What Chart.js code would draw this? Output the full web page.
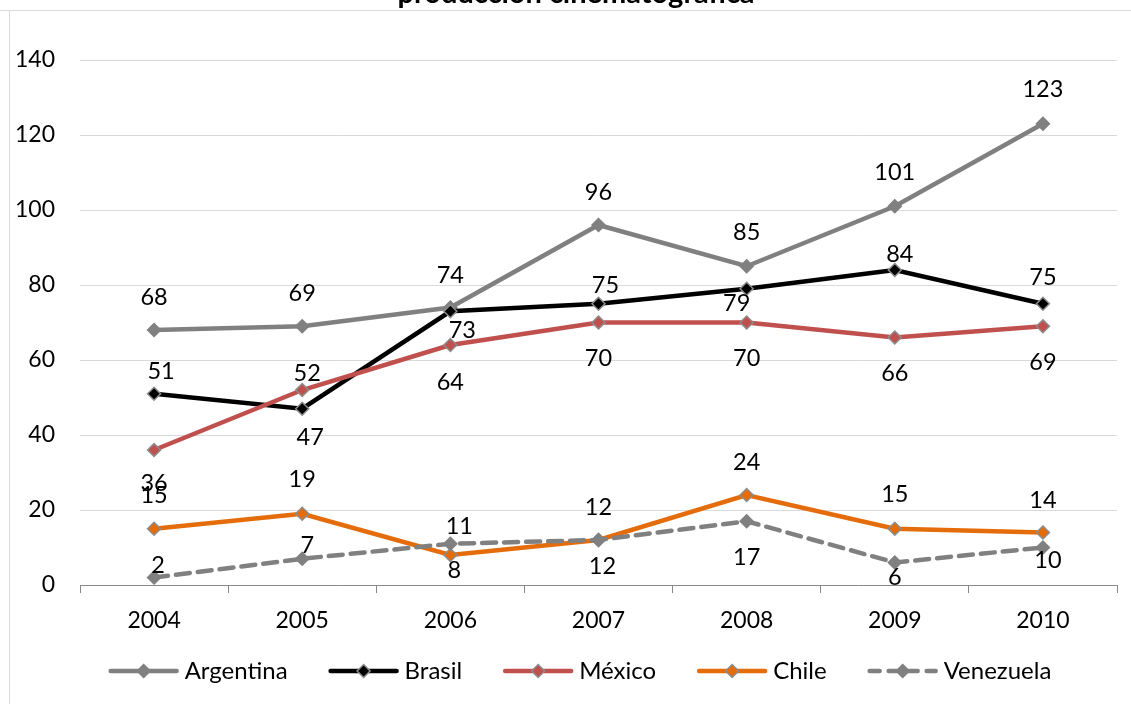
<!DOCTYPE html>
<html>
<head>
<meta charset="utf-8">
<script src="https://cdn.jsdelivr.net/npm/chart.js@4.4.1/dist/chart.umd.min.js"></script>
<style>
  html, body { margin: 0; padding: 0; background: #ffffff; }
  #wrap { position: relative; width: 1131px; height: 704px; }
  canvas { display: block; }
</style>
</head>
<body>
<div id="wrap"><canvas id="c" width="1131" height="704"></canvas></div>
<script>
// ---- data ----
const titleText = 'producción cinematográfica';
const categories = ['2004', '2005', '2006', '2007', '2008', '2009', '2010'];
const seriesNames = ['Argentina', 'Brasil', 'México', 'Chile', 'Venezuela'];
const argentina = [68, 69, 74, 96, 85, 101, 123];
const brasil = [51, 47, 73, 75, 79, 84, 75];
const mexico = [36, 52, 64, 70, 70, 66, 69];
const chile = [15, 19, 8, 12, 24, 15, 14];
const venezuela = [2, 7, 11, 12, 17, 6, 10];
const yMin = 0, yMax = 140, yStep = 20;

// ---- styles ----
const FONT = 'Lato, "Open Sans", sans-serif';
const FS_TICK = 23;
const FS_LABEL = 23.5;
const FS_LEGEND = 24;
const colors = ['#808080', '#000000', '#C0504D', '#E46C0A', '#808080'];
const dashes = [[], [], [], [], [14, 8]];
const markerBorder = '#8c8c8c';
// label offsets in px relative to the point (dx, dy of text centre)
const labelDy = [
  [-33, -33, -32, -33, -34, -34, -34],
  [-22, 29, 19, -18, 15, -16, -26],
  [33, -17, 37, 36, 36, 36, 36],
  [-33, -34, 15, -33, -33, -34, -32],
  [-12, -13, -17, 26, 36, 15, 13]
];
const labelDx = [
  [0, 0, 0, 0, 0, 0, 0],
  [7, 8, 12, 7, -10, 5, 0],
  [0, 5, 0, 0, 0, 0, 0],
  [0, 0, 4, 0, 0, 0, 0],
  [4, 5, 9, 4, 0, 0, 5]
];

const allSeries = [argentina, brasil, mexico, chile, venezuela];

const datasets = allSeries.map((vals, i) => ({
  label: seriesNames[i],
  data: vals,
  borderColor: colors[i],
  backgroundColor: colors[i],
  borderWidth: 4.5,
  borderDash: dashes[i],
  borderCapStyle: 'round',
  tension: 0,
  pointStyle: 'rectRot',
  pointRadius: 6.5,
  pointHoverRadius: 6.5,
  pointBackgroundColor: colors[i],
  pointBorderColor: i === 0 || i === 4 ? colors[i] : markerBorder,
  pointBorderWidth: 1.5,
  order: allSeries.length - i
}));

const framePlugin = {
  id: 'frame',
  beforeDraw(chart) {
    const ctx = chart.ctx;
    ctx.save();
    ctx.fillStyle = '#ffffff';
    ctx.fillRect(0, 0, chart.width, chart.height);
    ctx.strokeStyle = '#d9d9d9';
    ctx.lineWidth = 1;
    ctx.beginPath();
    ctx.moveTo(0, 10.5); ctx.lineTo(chart.width, 10.5);
    ctx.moveTo(9.5, 10); ctx.lineTo(9.5, chart.height);
    ctx.stroke();
    ctx.fillStyle = '#000000';
    ctx.font = 'bold 29px ' + FONT;
    ctx.textAlign = 'center';
    ctx.textBaseline = 'alphabetic';
    ctx.fillText(titleText, 576, 3);
    ctx.restore();
  }
};

const labelPlugin = {
  id: 'valueLabels',
  afterDatasetsDraw(chart) {
    const ctx = chart.ctx;
    const xs = chart.scales.x, ys = chart.scales.y;
    ctx.save();
    ctx.fillStyle = '#000000';
    ctx.font = FS_LABEL + 'px ' + FONT;
    ctx.textAlign = 'center';
    ctx.textBaseline = 'middle';
    allSeries.forEach((vals, i) => {
      vals.forEach((v, j) => {
        const px = xs.getPixelForValue(j);
        const py = ys.getPixelForValue(v);
        ctx.fillText(String(v), px + labelDx[i][j], py + labelDy[i][j]);
      });
    });
    ctx.restore();
  }
};

const legendPlugin = {
  id: 'customLegend',
  afterDraw(chart) {
    const ctx = chart.ctx;
    ctx.save();
    ctx.font = FS_LEGEND + 'px ' + FONT;
    const lineLen = 70, gapText = 6, gapItem = 41;
    const widths = seriesNames.map(n => ctx.measureText(n).width);
    let total = 0;
    widths.forEach((w, i) => { total += lineLen + gapText + w + (i < widths.length - 1 ? gapItem : 0); });
    let x = 580 - total / 2;
    const y = 671;
    seriesNames.forEach((name, i) => {
      ctx.strokeStyle = colors[i];
      ctx.lineWidth = 4.5;
      ctx.lineCap = 'round';
      ctx.setLineDash(i === 4 ? [10, 9] : []);
      ctx.beginPath();
      ctx.moveTo(x + 2, y); ctx.lineTo(x + lineLen - 2, y);
      ctx.stroke();
      ctx.setLineDash([]);
      const cx = x + lineLen / 2, r = 6.5;
      ctx.beginPath();
      ctx.moveTo(cx, y - r); ctx.lineTo(cx + r, y); ctx.lineTo(cx, y + r); ctx.lineTo(cx - r, y); ctx.closePath();
      ctx.fillStyle = colors[i];
      ctx.fill();
      ctx.lineWidth = 1.5;
      ctx.strokeStyle = (i === 0 || i === 4) ? colors[i] : markerBorder;
      ctx.stroke();
      ctx.fillStyle = '#000000';
      ctx.textAlign = 'left';
      ctx.textBaseline = 'middle';
      ctx.fillText(name, x + lineLen + gapText, y);
      x += lineLen + gapText + widths[i] + gapItem;
    });
    ctx.restore();
  }
};

function build() {
  new Chart(document.getElementById('c'), {
    type: 'line',
    data: { labels: categories, datasets: datasets },
    options: {
      responsive: false,
      animation: false,
      devicePixelRatio: 1,
      layout: { padding: { top: 60, right: 14, left: 0, bottom: 0 } },
      plugins: {
        legend: { display: false },
        title: { display: false },
        tooltip: { enabled: false }
      },
      scales: {
        x: {
          type: 'category',
          offset: true,
          grid: {
            offset: true,
            drawOnChartArea: false,
            drawTicks: true,
            tickLength: 8,
            color: '#898989',
            lineWidth: 1
          },
          border: { display: true, color: '#898989', width: 1 },
          ticks: { color: '#000000', font: { family: FONT, size: FS_TICK }, padding: 14, maxRotation: 0 },
          afterFit(s) { s.height = 119; }
        },
        y: {
          min: yMin,
          max: yMax,
          ticks: { stepSize: yStep, color: '#000000', font: { family: FONT, size: FS_TICK }, padding: 25 },
          grid: { color: '#d9d9d9', lineWidth: 1, drawTicks: false },
          border: { display: false },
          afterFit(s) { s.width = 80; }
        }
      }
    },
    plugins: [framePlugin, labelPlugin, legendPlugin]
  });
}

if (document.fonts && document.fonts.load) {
  Promise.all([document.fonts.load('23px Lato'), document.fonts.load('bold 29px Lato')]).then(build, build);
} else {
  build();
}
</script>
</body>
</html>
